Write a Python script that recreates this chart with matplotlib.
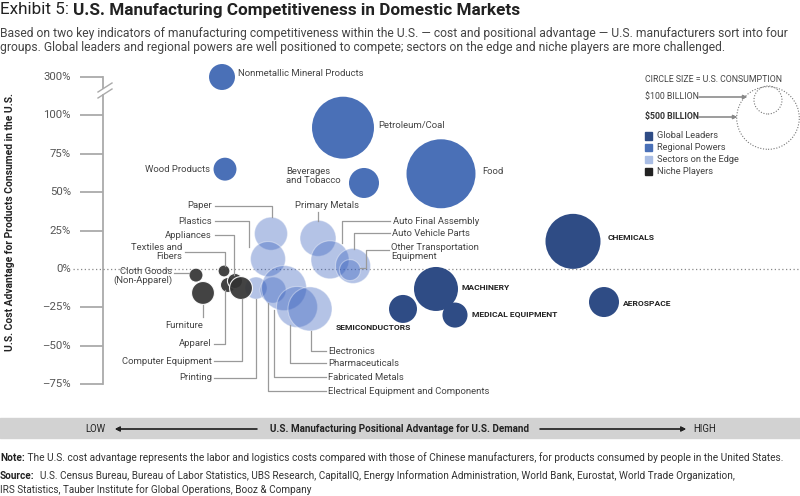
import numpy as np
import matplotlib
matplotlib.use("Agg")
import matplotlib.pyplot as plt
from matplotlib.lines import Line2D
from matplotlib.patches import Rectangle

plt.rcParams['font.family'] = ['Roboto', 'DejaVu Sans']

# ---------------------------------------------------------------
# Data read off the exhibit
sectores = ["Nonmetallic Mineral Products", "Petroleum/Coal", "Wood Products",
            "Beverages and Tobacco", "Food", "Chemicals", "Aerospace", "Machinery",
            "Medical Equipment", "Semiconductors", "Paper", "Plastics", "Primary Metals",
            "Auto Final Assembly", "Auto Vehicle Parts", "Other Transportation Equipment",
            "Printing", "Electrical Equipment and Components", "Fabricated Metals",
            "Pharmaceuticals", "Electronics", "Cloth Goods (Non-Apparel)", "Furniture",
            "Textiles and Fibers", "Apparel", "Appliances", "Computer Equipment"]
grupo = ["Regional Powers", "Regional Powers", "Regional Powers", "Regional Powers",
         "Regional Powers", "Global Leaders", "Global Leaders", "Global Leaders",
         "Global Leaders", "Global Leaders", "Sectors on the Edge", "Sectors on the Edge",
         "Sectors on the Edge", "Sectors on the Edge", "Sectors on the Edge",
         "Sectors on the Edge", "Sectors on the Edge", "Sectors on the Edge",
         "Sectors on the Edge", "Sectors on the Edge", "Sectors on the Edge",
         "Niche Players", "Niche Players", "Niche Players", "Niche Players",
         "Niche Players", "Niche Players"]
# positional advantage (no scale printed, index ~ position on the exhibit)
ventaja_posicional = [222, 343, 225, 364, 441, 573, 604, 436, 455, 403, 271, 268, 318,
                      330, 353, 350, 256, 273, 284, 297, 310, 196, 203, 224, 228, 235, 241]
# cost advantage, %
ventaja_coste = [300, 92, 65, 56, 62, 18, -21.5, -13, -30, -26, 23, 6.5, 20,
                 6, 2, -0.7, -12.4, -13.7, -12.4, -24.7, -26, -4, -15.6, -1.3, -10.4, -7.8, -12.4]
# U.S. consumption, $ billion
consumo = [86, 490, 67, 115, 607, 386, 115, 247, 80, 100, 139, 156, 165,
           184, 156, 56, 62, 86, 258, 214, 247, 25, 67, 18, 29, 29, 67]

ticks_y = [300, 100, 75, 50, 25, 0, -25, -50, -75]
ticks_lbl = ["300%", "100%", "75%", "50%", "25%", "0%", "–25%", "–50%", "–75%"]
leyenda_consumo = [100, 500]

colores = {"Global Leaders": "#2f4c85", "Regional Powers": "#4a70b7",
           "Sectors on the Edge": "#3a62bf", "Niche Players": "#333333"}
colores_leyenda = {"Global Leaders": "#2f4c85", "Regional Powers": "#4a70b7",
                   "Sectors on the Edge": "#a9bde4", "Niche Players": "#222222"}

W, H = 800, 496
fig = plt.figure(figsize=(W / 100, H / 100), dpi=100)


def pct(py):
    # pixel row -> % on the cost axis
    return (269 - py) / 1.536


def rotura(v):
    # broken axis: 300% sits one step above 100%
    v = np.asarray(v, dtype=float)
    return np.where(v > 110, 125 + (v - 300) / 8, v)


ax = fig.add_axes([0, (H - 405) / H, 1, 345 / H])
ax.set_xlim(0, W)
ax.set_ylim(pct(405), pct(60))
ax.axis('off')

px_pt = 0.72  # 1 px in points
escala = (28 * px_pt) ** 2 / 100  # $100B -> 28 px across

x = np.array(ventaja_posicional, float)
y = rotura(ventaja_coste)
s = np.array(consumo, float) * escala
g = np.array(grupo)

# ---- axis
gris = "#aaaaaa"
for t, l in zip(ticks_y, ticks_lbl):
    yy = float(rotura(t))
    if t != 0:
        ax.plot([80, 103], [yy, yy], color=gris, lw=1.3, solid_capstyle='butt')
    ax.text(71, yy, l, ha='right', va='center', fontsize=8.2, color='#555555')
ax.plot([103, 103], [-75, pct(95)], color=gris, lw=1.3)
ax.plot([103, 103], [pct(88), 125], color=gris, lw=1.3)
ax.plot([98, 112], [pct(92), pct(83)], color=gris, lw=1)
ax.plot([98, 112], [pct(98), pct(89)], color=gris, lw=1)
ax.plot([73, W], [0, 0], color='#888888', lw=0.9, linestyle=(0, (1, 2)))

# ---- bubbles
m = g == "Regional Powers"
ax.scatter(x[m], y[m], s=s[m], color=colores["Regional Powers"], edgecolors='none', zorder=3)
m = g == "Global Leaders"
ax.scatter(x[m], y[m], s=s[m], color=colores["Global Leaders"], edgecolors='none', zorder=3)
m = g == "Sectors on the Edge"
ax.scatter(x[m], y[m], s=s[m], color=colores["Sectors on the Edge"], alpha=0.38,
           edgecolors='white', linewidths=0.8, zorder=3)
m = g == "Niche Players"
ax.scatter(x[m], y[m], s=s[m], color=colores["Niche Players"], alpha=0.92,
           edgecolors='white', linewidths=0.8, zorder=4)

# size legend
ax.scatter([768, 768], [pct(100), pct(118)], s=np.array(leyenda_consumo) * escala,
           facecolors='none', edgecolors='#777777', linewidths=0.8, linestyle=(0, (1, 1.5)))


# ---- text helpers in figure pixels (origin top-left)
def ft(px, py, txt, **kw):
    kw.setdefault('fontsize', 6.8)
    kw.setdefault('color', '#444444')
    kw.setdefault('va', 'center')
    return fig.text(px / W, 1 - py / H, txt, **kw)


def fl(pts, color='#9a9a9a', lw=0.9):
    xs = [p[0] / W for p in pts]
    ys = [1 - p[1] / H for p in pts]
    fig.add_artist(Line2D(xs, ys, transform=fig.transFigure, color=color, lw=lw))


def flecha(x0, x1, py, color, lw, ms):
    fig.add_artist(plt.annotate('', xy=(x1, H - py), xytext=(x0, H - py),
                                xycoords='figure pixels', textcoords='figure pixels',
                                arrowprops=dict(arrowstyle='-|>', color=color, lw=lw,
                                                mutation_scale=ms, shrinkA=0, shrinkB=0)))


# title
t1 = ft(0, 10, "Exhibit 5: ", fontsize=12.3, color='#222222')
fig.canvas.draw()
bb = t1.get_window_extent()
fig.text(bb.x1 / W, 1 - 10 / H, "U.S. Manufacturing Competitiveness in Domestic Markets",
         fontsize=12.3, fontweight='bold', color='#222222', va='center')
ft(0, 33, "Based on two key indicators of manufacturing competitiveness within the U.S. — cost and "
   "positional advantage — U.S. manufacturers sort into four", fontsize=8.7, color='#444444')
ft(0, 47, "groups. Global leaders and regional powers are well positioned to compete; sectors on "
   "the edge and niche players are more challenged.", fontsize=8.7, color='#444444')

# y label
ft(10, 222, "U.S. Cost Advantage for Products Consumed in the U.S.", rotation=90,
   ha='center', fontsize=7.4, fontweight='bold', color='#222222')

# bubble labels
etiquetas = [
    ("Nonmetallic Mineral Products", 238, 74, 'left'),
    ("Petroleum/Coal", 378, 126, 'left'),
    ("Wood Products", 210, 169, 'right'),
    ("Beverages\nand Tobacco", 286, 176, 'left'),
    ("Food", 482, 172, 'left'),
    ("Paper", 212, 206, 'right'),
    ("Plastics", 212, 221, 'right'),
    ("Appliances", 212, 235, 'right'),
    ("Textiles and\nFibers", 182, 252, 'right'),
    ("Cloth Goods\n(Non-Apparel)", 172, 276, 'right'),
    ("Furniture", 184, 325, 'center'),
    ("Apparel", 212, 344, 'right'),
    ("Computer Equipment", 212, 361, 'right'),
    ("Printing", 212, 378, 'right'),
    ("Primary Metals", 327, 206, 'center'),
    ("Auto Final Assembly", 393, 221, 'left'),
    ("Auto Vehicle Parts", 392, 233, 'left'),
    ("Other Transportation\nEquipment", 391, 252, 'left'),
    ("Electronics", 328, 351, 'left'),
    ("Pharmaceuticals", 328, 363, 'left'),
    ("Fabricated Metals", 328, 377, 'left'),
    ("Electrical Equipment and Components", 328, 391, 'left'),
]
for txt, px, py, ha in etiquetas:
    ft(px, py, txt, ha=ha, linespacing=1.05)

for txt, px, py in [("CHEMICALS", 608, 238), ("AEROSPACE", 623, 303), ("MACHINERY", 462, 287),
                    ("MEDICAL EQUIPMENT", 472, 314), ("SEMICONDUCTORS", 336, 328)]:
    ft(px, py, txt, fontsize=6.1, fontweight='bold', color='#222222')

# leader lines
lineas = [
    [(215, 206), (272, 206), (272, 217)],
    [(215, 221), (249, 221), (249, 247)],
    [(215, 235), (234, 235), (234, 275)],
    [(185, 252), (225, 252), (225, 266)],
    [(174, 273), (189, 273)],
    [(203, 305), (203, 317)],
    [(214, 344), (225, 344), (225, 290)],
    [(214, 361), (242, 361), (242, 299)],
    [(214, 378), (256, 378), (256, 299)],
    [(318, 212), (318, 221)],
    [(390, 221), (342, 221), (342, 243)],
    [(390, 233), (354, 233), (354, 249)],
    [(389, 250), (366, 250), (366, 268), (360, 268)],
    [(326, 351), (311, 351), (311, 331)],
    [(326, 363), (290, 363), (290, 325)],
    [(326, 377), (274, 377), (274, 310)],
    [(326, 391), (268, 391), (268, 303)],
]
for pts in lineas:
    fl(pts)

# legend
ft(645, 79, "CIRCLE SIZE = U.S. CONSUMPTION", fontsize=6.3)
ft(645, 97, r"\$100 BILLION", fontsize=6.3)
ft(645, 117, r"\$500 BILLION", fontsize=6.3, fontweight='bold', color='#333333')
flecha(699, 747, 97, '#888888', 0.8, 6)
flecha(699, 737, 117, '#888888', 0.8, 6)
for i, nombre in enumerate(["Global Leaders", "Regional Powers", "Sectors on the Edge", "Niche Players"]):
    py = 136 + i * 11.7
    fig.add_artist(Rectangle((645 / W, 1 - (py + 3.5) / H), 7 / W, 7 / H,
                             transform=fig.transFigure, color=colores_leyenda[nombre]))
    ft(657, py, nombre, fontsize=6.7)

# bottom band
fig.add_artist(Rectangle((0, 1 - 438 / H), 1, 20 / H, transform=fig.transFigure,
                         color='#d2d2d2', zorder=0))
ft(85, 429, "LOW", fontsize=6.9, color='#222222')
ft(693, 429, "HIGH", fontsize=6.9, color='#222222')
ft(399, 429, "U.S. Manufacturing Positional Advantage for U.S. Demand", ha='center',
   fontsize=7.1, fontweight='bold', color='#222222')
flecha(257, 115, 429, '#222222', 0.9, 7)
flecha(540, 686, 429, '#222222', 0.9, 7)

# footnotes
n1 = ft(0, 458, "Note:", fontsize=7.3, fontweight='bold', color='#222222')
s1 = ft(0, 476, "Source:", fontsize=7.2, fontweight='bold', color='#222222')
fig.canvas.draw()
fig.text(n1.get_window_extent().x1 / W, 1 - 458 / H,
         " The U.S. cost advantage represents the labor and logistics costs compared with those of "
         "Chinese manufacturers, for products consumed by people in the United States.",
         fontsize=7.3, color='#333333', va='center')
fig.text(s1.get_window_extent().x1 / W, 1 - 476 / H,
         "  U.S. Census Bureau, Bureau of Labor Statistics, UBS Research, CapitalIQ, Energy Information "
         "Administration, World Bank, Eurostat, World Trade Organization,",
         fontsize=7.2, color='#333333', va='center')
ft(0, 490, "IRS Statistics, Tauber Institute for Global Operations, Booz & Company",
   fontsize=7.2, color='#333333')

fig.savefig("out.png", dpi=100)
